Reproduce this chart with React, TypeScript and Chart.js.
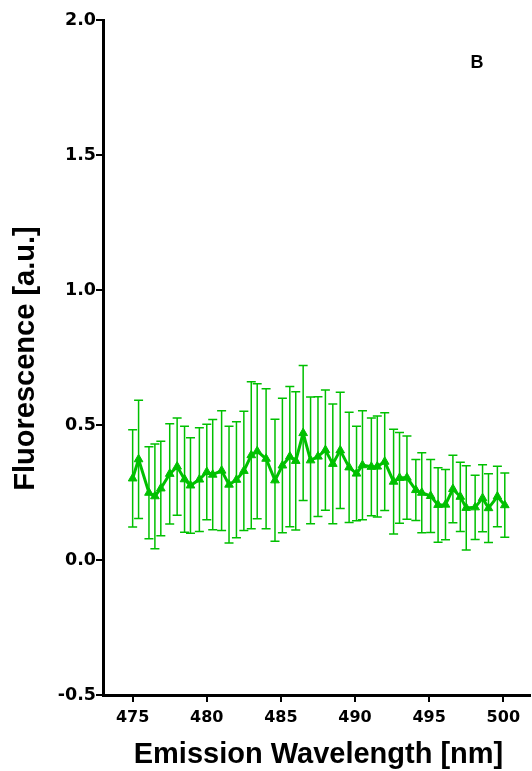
import React, { useEffect, useRef } from "react";
import { Chart, registerables } from "chart.js";

Chart.register(...registerables);

const wavelengths = [475.0, 475.4, 476.1, 476.5, 476.9, 477.5, 478.0, 478.5, 478.9, 479.5, 480.0, 480.4, 481.0, 481.5, 482.0, 482.5, 483.0, 483.4, 484.0, 484.6, 485.1, 485.6, 486.0, 486.5, 487.0, 487.5, 488.0, 488.5, 489.0, 489.6, 490.1, 490.5, 491.1, 491.5, 492.0, 492.6, 493.0, 493.5, 494.1, 494.5, 495.1, 495.6, 496.1, 496.6, 497.1, 497.5, 498.1, 498.6, 499.0, 499.6, 500.1];
const fluorescence = [0.302, 0.373, 0.249, 0.236, 0.265, 0.319, 0.346, 0.299, 0.276, 0.298, 0.326, 0.316, 0.331, 0.279, 0.297, 0.330, 0.388, 0.403, 0.375, 0.295, 0.350, 0.383, 0.367, 0.470, 0.369, 0.383, 0.407, 0.356, 0.406, 0.343, 0.320, 0.351, 0.345, 0.346, 0.364, 0.290, 0.304, 0.305, 0.259, 0.249, 0.237, 0.204, 0.205, 0.263, 0.234, 0.193, 0.195, 0.229, 0.192, 0.235, 0.203];
const errors = [0.180, 0.219, 0.170, 0.194, 0.175, 0.186, 0.180, 0.196, 0.177, 0.192, 0.177, 0.204, 0.222, 0.216, 0.215, 0.221, 0.272, 0.250, 0.259, 0.226, 0.249, 0.260, 0.256, 0.250, 0.235, 0.222, 0.223, 0.222, 0.215, 0.204, 0.175, 0.202, 0.181, 0.187, 0.181, 0.194, 0.168, 0.154, 0.113, 0.148, 0.135, 0.138, 0.130, 0.125, 0.128, 0.156, 0.119, 0.124, 0.127, 0.112, 0.119];

const xTitle = "Emission Wavelength [nm]";
const yTitle = "Fluorescence [a.u.]";
const panelLabel = "B";

const GREEN = "rgb(0,192,0)";
const FONT = "'Liberation Sans', Arial, sans-serif";
const TICK_FONT = "'DejaVu Sans', 'Liberation Sans', sans-serif";

const errorBarPlugin = {
  id: "errorBars",
  beforeDatasetsDraw(chart: any) {
    const { ctx, scales } = chart;
    const x = scales.x;
    const y = scales.y;
    ctx.save();
    ctx.strokeStyle = GREEN;
    ctx.lineWidth = 1.5;
    wavelengths.forEach((w, i) => {
      const px = x.getPixelForValue(w);
      const top = y.getPixelForValue(fluorescence[i] + errors[i]);
      const bot = y.getPixelForValue(fluorescence[i] - errors[i]);
      ctx.beginPath();
      ctx.moveTo(px, top);
      ctx.lineTo(px, bot);
      ctx.moveTo(px - 4.5, top);
      ctx.lineTo(px + 4.5, top);
      ctx.moveTo(px - 4.5, bot);
      ctx.lineTo(px + 4.5, bot);
      ctx.stroke();
    });
    ctx.restore();
  },
};

const titlesPlugin = {
  id: "titles",
  afterDraw(chart: any) {
    const { ctx, chartArea } = chart;
    ctx.save();
    ctx.fillStyle = "#000";
    ctx.font = `bold 29px ${FONT}`;
    ctx.textAlign = "center";
    ctx.textBaseline = "alphabetic";
    ctx.fillText(xTitle, (chartArea.left + chartArea.right) / 2 + 2, 763);
    ctx.save();
    ctx.translate(33.5, (chartArea.top + chartArea.bottom) / 2 + 1);
    ctx.rotate(-Math.PI / 2);
    ctx.fillText(yTitle, 0, 0);
    ctx.restore();
    ctx.font = `bold 18px ${FONT}`;
    ctx.fillText(panelLabel, 477, 68);
    ctx.restore();
  },
};

export default function App() {
  const canvasRef = useRef<HTMLCanvasElement | null>(null);

  useEffect(() => {
    const canvas = canvasRef.current;
    if (!canvas) return;
    const chart = new Chart(canvas, {
      type: "line",
      data: {
        datasets: [
          {
            data: wavelengths.map((w, i) => ({ x: w, y: fluorescence[i] })),
            borderColor: GREEN,
            backgroundColor: GREEN,
            borderWidth: 3,
            pointStyle: "triangle",
            pointRadius: 5,
            pointBorderWidth: 1,
            pointBackgroundColor: GREEN,
            pointBorderColor: GREEN,
            tension: 0,
          },
        ],
      },
      options: {
        animation: false,
        responsive: false,
        devicePixelRatio: 1,
        layout: { padding: { top: 20, right: 0, left: 0, bottom: 0 } },
        plugins: { legend: { display: false }, tooltip: { enabled: false } },
        scales: {
          x: {
            type: "linear",
            min: 473,
            max: 501.8,
            afterFit: (s: any) => {
              s.height = 76;
              s.paddingLeft = 0;
              s.paddingRight = 0;
            },
            border: { display: true, color: "#000", width: 3 },
            grid: {
              drawOnChartArea: false,
              drawTicks: true,
              tickLength: 7,
              tickWidth: 2,
              tickColor: "#000",
              color: "#000",
              lineWidth: 2,
            },
            ticks: {
              stepSize: 5,
              includeBounds: false,
              color: "#000",
              padding: 6,
              maxRotation: 0,
              font: { family: TICK_FONT, size: 16, weight: "bold" },
              callback: (v: any) => String(v),
            },
          },
          y: {
            type: "linear",
            min: -0.5,
            max: 2.0,
            afterFit: (s: any) => {
              s.width = 103;
            },
            border: { display: true, color: "#000", width: 3 },
            grid: {
              drawOnChartArea: false,
              drawTicks: true,
              tickLength: 7,
              tickWidth: 2,
              tickColor: "#000",
              color: "#000",
              lineWidth: 2,
            },
            ticks: {
              stepSize: 0.5,
              includeBounds: false,
              color: "#000",
              padding: 0,
              font: { family: TICK_FONT, size: 17.5, weight: "bold" },
              callback: (v: any) => Number(v).toFixed(1),
            },
          },
        },
      },
      plugins: [errorBarPlugin, titlesPlugin],
    } as any);
    return () => chart.destroy();
  }, []);

  return (
    <div style={{ position: "absolute", left: 0, top: 0, width: 532, height: 771, background: "#fff", overflow: "hidden" }}>
      <canvas ref={canvasRef} width={536} height={771} style={{ width: 536, height: 771, display: "block" }} />
    </div>
  );
}
